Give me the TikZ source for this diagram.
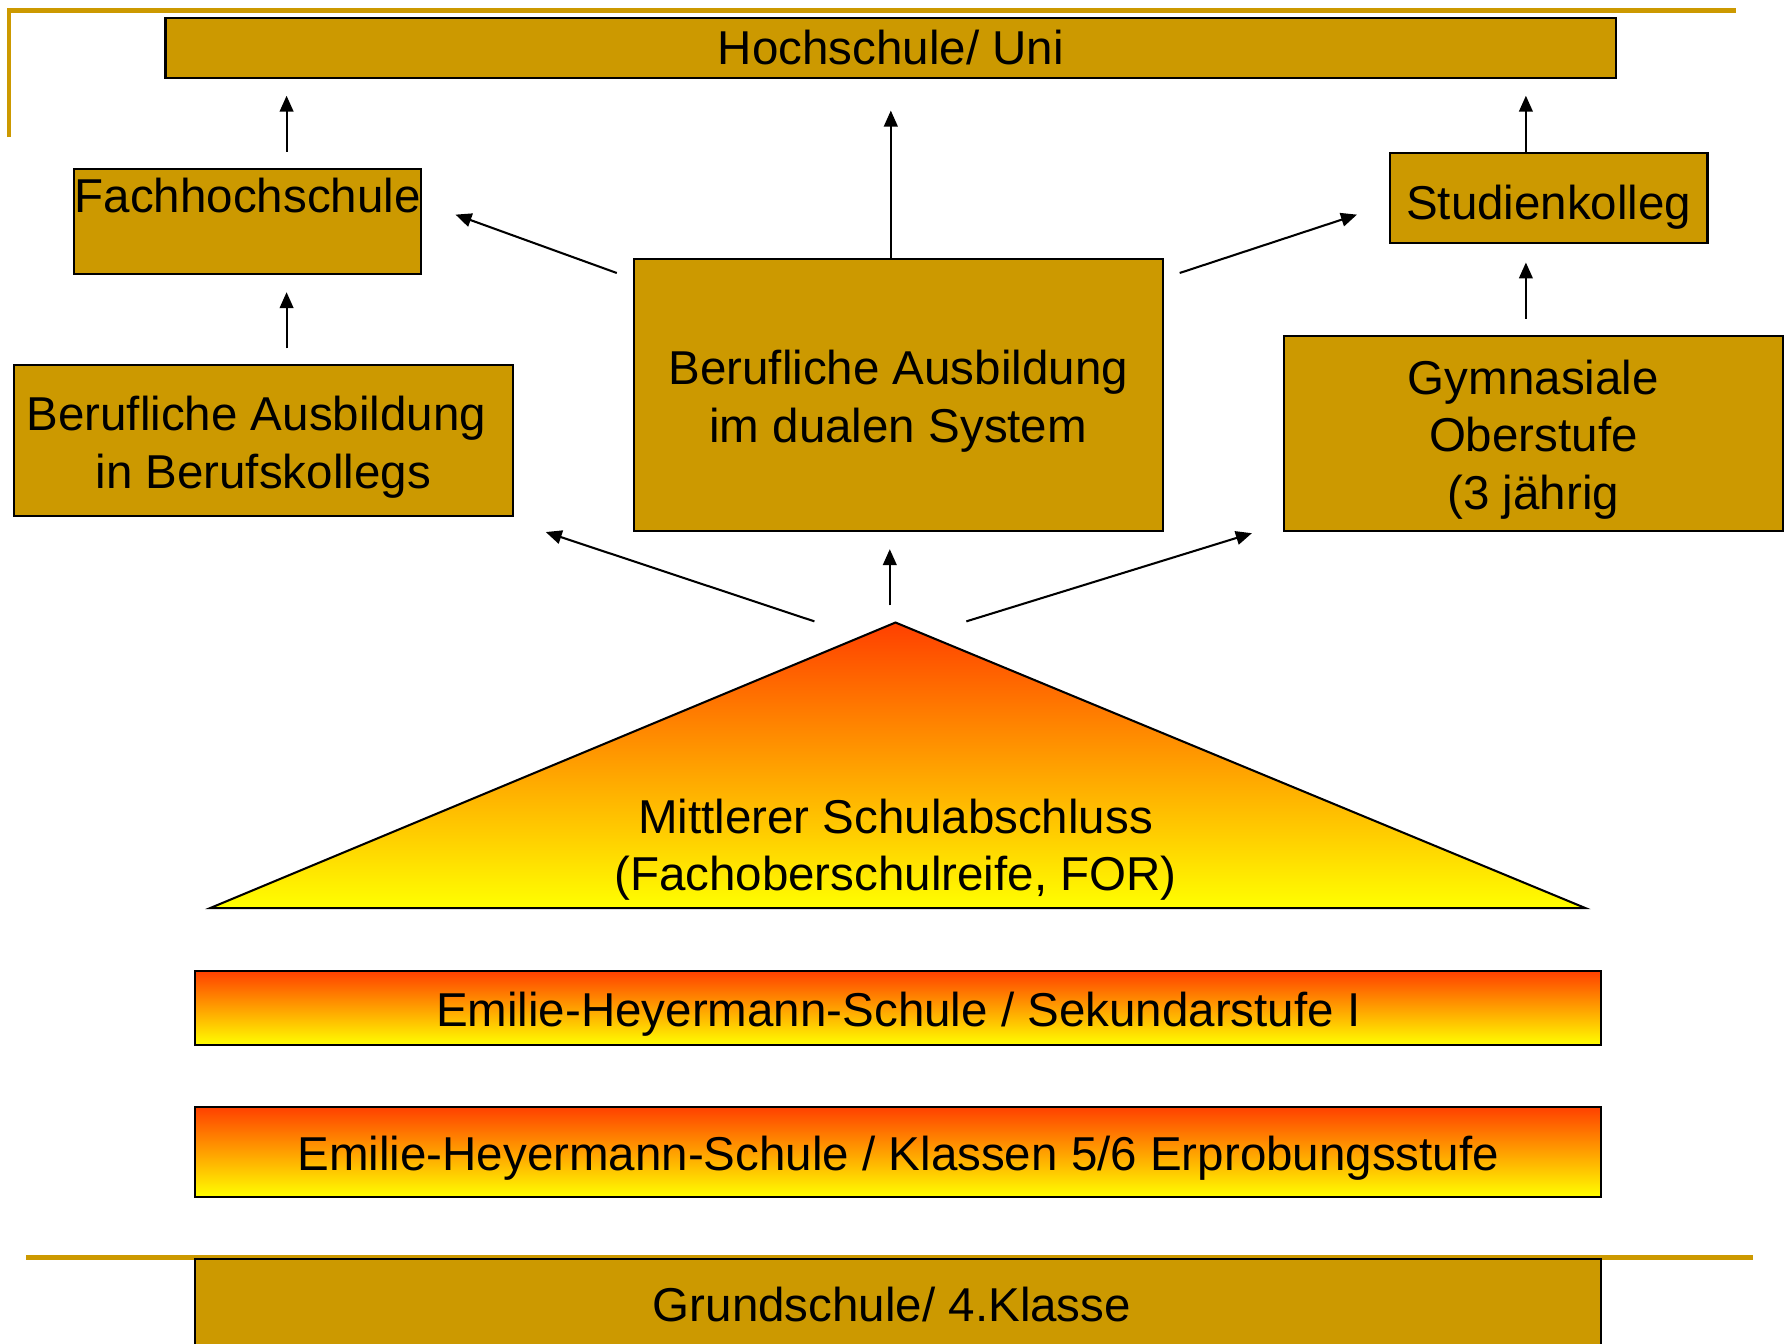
\documentclass[tikz,border=0pt]{standalone}
\usepackage{fontspec}
\setmainfont{Liberation Sans}
\usetikzlibrary{arrows.meta}
\definecolor{goldc}{RGB}{204,153,0}
\definecolor{redo}{RGB}{255,64,0}
\definecolor{yel}{RGB}{255,255,0}
\newcommand\myfs{\fontsize{41.6pt}{50.5pt}\selectfont}
\newcommand\topstrut{\rule{0pt}{41pt}}
\tikzset{
  goldbox/.style={draw=black, line width=1.8pt, fill=goldc, inner sep=0pt, font=\myfs, align=center, anchor=north west},
  gradbox/.style={draw=black, line width=1.8pt, top color=redo, bottom color=yel, inner sep=0pt, font=\myfs, align=center, anchor=north west},
  arr/.style={-{Triangle[length=14pt,width=12pt]}, line width=1.8pt},
  frameline/.style={draw=goldc, line width=4pt},
  plaintext/.style={font=\myfs, align=center, inner sep=0pt}
}
\begin{document}
\begin{tikzpicture}[x=1pt,y=-1pt]
\useasboundingbox[fill=white] (0,0) rectangle (1568,1176);
% frame lines
\draw[frameline] (8,120) -- (8,9) -- (1520,9);
\draw[frameline] (23,1101) -- (1535,1101);
% boxes
\node[goldbox, minimum width=1270pt, minimum height=52pt] (hs) at (144,15) {Hochschule/ Uni};
\node[goldbox, minimum width=304pt, minimum height=92pt, text height=38pt, text depth=54pt] (fh) at (64,147) {Fachhochschule};
\node[goldbox, minimum width=437pt, minimum height=132pt] (bk) at (11,319) {\topstrut Berufliche Ausbildung\hspace*{12pt}\\in Berufskollegs};
\node[goldbox, minimum width=463pt, minimum height=238pt] (db) at (554,226) {\topstrut Berufliche Ausbildung\\im dualen System};
\node[goldbox, minimum width=278pt, minimum height=79pt, text height=58pt, text depth=21pt] (sk) at (1216,133) {Studienkolleg};
\node[goldbox, minimum width=437pt, minimum height=171pt] (gy) at (1123,293) {\topstrut Gymnasiale\\Oberstufe\\(3 jährig};
% triangle
\coordinate (apex) at (784,545);
\coordinate (bl) at (184,795);
\coordinate (br) at (1388,795);
\path[draw=black, line width=1.8pt, top color=redo, bottom color=yel] (apex) -- (br) -- (bl) -- cycle;
\node[plaintext] (msa) at (784,744) {Mittlerer Schulabschluss\\(Fachoberschulreife, FOR)};
% lower boxes
\node[gradbox, minimum width=1231pt, minimum height=65pt] (sek) at (170,849) {\topstrut Emilie-Heyermann-Schule / Sekundarstufe I};
\node[gradbox, minimum width=1231pt, minimum height=79pt] (kl) at (170,968) {\topstrut Emilie-Heyermann-Schule / Klassen 5/6 Erprobungsstufe};
\node[goldbox, minimum width=1231pt, minimum height=80pt] (gs) at (170,1101) {Grundschule/ 4.Klasse\hspace*{11pt}};
% arrows
\path ([xshift=34pt]fh.north) coordinate (a1);
\draw[arr, shorten <=14pt, shorten >=15pt] (a1) -- (a1 |- hs.south);
\path ([xshift=20.5pt]bk.north) coordinate (a2);
\draw[arr, shorten <=14pt, shorten >=15pt] (a2) -- (a2 |- fh.south);
\draw[arr] ([xshift=-14pt,yshift=-13pt]db.north west) -- ([xshift=29pt,yshift=6pt]fh.east);
\path ([xshift=-6.5pt]db.north) coordinate (a4);
\draw[arr, shorten >=28pt] (a4) -- (a4 |- hs.south);
\draw[arr] ([xshift=14pt,yshift=-13pt]db.north east) -- ([xshift=-28pt,yshift=-14.5pt]sk.west);
\path ([xshift=-20pt]sk.north) coordinate (a6);
\draw[arr, shorten >=15pt] (a6) -- (a6 |- hs.south);
\path ([xshift=-6.5pt]gy.north) coordinate (a7);
\draw[arr, shorten <=14pt, shorten >=16pt] (a7) -- (a7 |- sk.south);
\draw[arr] ([xshift=-71pt,yshift=1pt]apex) -- ([xshift=28pt,yshift=-13pt]bk.south east);
\path ([xshift=-5pt,yshift=15pt]apex) coordinate (a9);
\draw[arr, shorten >=15pt] (a9) -- (a9 |- db.south);
\draw[arr] ([xshift=62pt,yshift=1pt]apex) -- ([xshift=-27pt,yshift=-1pt]gy.south west);
\end{tikzpicture}
\end{document}
